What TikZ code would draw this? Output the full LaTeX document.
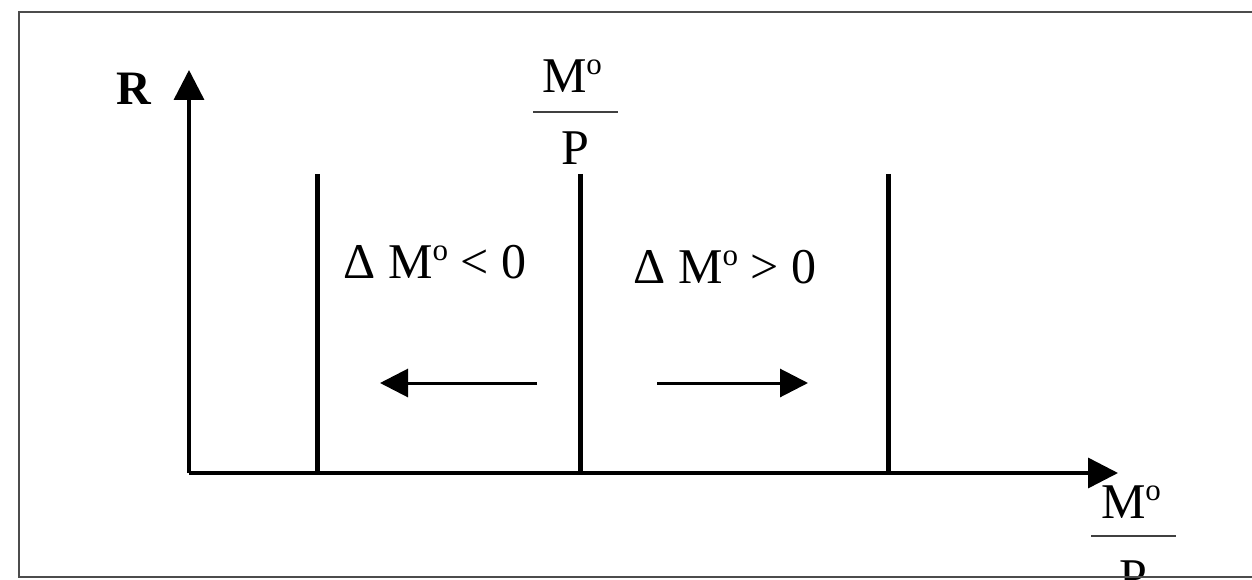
\documentclass[tikz,border=0pt]{standalone}
\usepackage{fontspec}
\setmainfont{Liberation Serif}
\usetikzlibrary{arrows.meta}
\newcommand{\Mdeg}{M\raisebox{18pt}{\fontsize{31}{31}\selectfont o}}
\begin{document}
\begin{tikzpicture}[x=1pt,y=-1pt,
  lbl/.style={anchor=base,inner sep=0pt,font=\fontsize{50}{58}\selectfont},
  boldlbl/.style={lbl,font=\fontsize{48}{56}\selectfont\bfseries},
  axisline/.style={line width=3.5pt,-{Triangle[length=30pt,width=30pt]}},
  curveline/.style={line width=5pt},
  shiftarrow/.style={line width=3pt,-{Triangle[length=28pt,width=28pt]}},
  fracbar/.style={line width=2.5pt,draw=black!75}]
\useasboundingbox (0,0) rectangle (1252,580);
\clip (0,0) rectangle (1252,580);
\fill[white] (0,0) rectangle (1252,580);
% axes
\coordinate (O) at (189,473);
\coordinate (ytip) at (189,70);
\coordinate (xtip) at (1118,473);
\draw[axisline] (O) -- (ytip);
\draw[axisline] (O) -- (xtip);
\node[boldlbl] (R) at (134,105) {R};
% vertical lines
\coordinate (l1t) at (317,174); \coordinate (l1b) at (317,473);
\coordinate (l2t) at (580,174); \coordinate (l2b) at (580,473);
\coordinate (l3t) at (888,174); \coordinate (l3b) at (888,473);
\draw[curveline] (l1t) -- (l1b);
\draw[curveline] (l2t) -- (l2b);
\draw[curveline] (l3t) -- (l3b);
% top fraction
\node[lbl] (tm) at (572,93) {\Mdeg};
\coordinate (tb1) at (533,112); \coordinate (tb2) at (618,112);
\draw[fracbar] (tb1) -- (tb2);
\node[lbl] (tp) at (575,165) {P};
% labels
\node[lbl] (dl) at (435,278) {Δ \Mdeg{} < 0};
\node[lbl] (dr) at (725,283) {Δ \Mdeg{} > 0};
% shift arrows
\coordinate (a1s) at (537,383); \coordinate (a1e) at (380,383);
\coordinate (a2s) at (657,383); \coordinate (a2e) at (808,383);
\draw[shiftarrow] (a1s) -- (a1e);
\draw[shiftarrow] (a2s) -- (a2e);
% bottom fraction
\node[lbl] (bm) at (1131,518) {\Mdeg};
\coordinate (bb1) at (1091,536); \coordinate (bb2) at (1176,536);
\draw[fracbar] (bb1) -- (bb2);
\node[lbl] (bp) at (1133,593) {P};
% frame
\draw[line width=2.5pt,draw=black!70] (19,12) rectangle (1270,577);
\end{tikzpicture}
\end{document}
